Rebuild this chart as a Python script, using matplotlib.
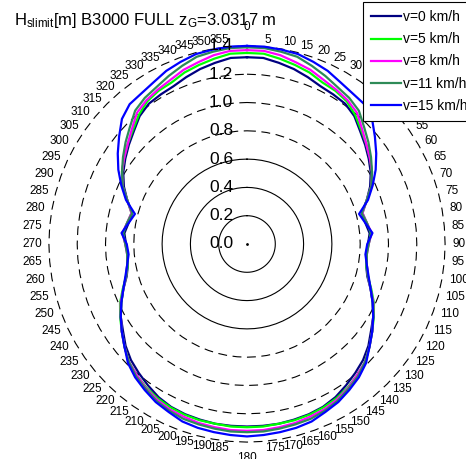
import matplotlib
matplotlib.use('Agg')
import matplotlib.pyplot as plt
import numpy as np

plt.rcParams['font.family'] = ['Liberation Sans', 'DejaVu Sans']
plt.rcParams['mathtext.fontset'] = 'custom'
plt.rcParams['mathtext.rm'] = 'Liberation Sans'
plt.rcParams['mathtext.it'] = 'Liberation Sans:italic'

# wave heading [deg], 0..180 (the plot is symmetric about 0/180)
heading = list(range(0, 185, 5))

h_v0 = [1.32, 1.32, 1.30, 1.28, 1.255, 1.23, 1.22, 1.21, 1.18, 1.13, 1.09, 1.05, 1.01,
        0.96, 0.90, 0.84, 0.85, 0.87, 0.855, 0.845, 0.855, 0.88, 0.93, 0.98, 1.03, 1.07,
        1.12, 1.16, 1.19, 1.22, 1.25, 1.27, 1.28, 1.285, 1.29, 1.29, 1.29]
h_v5 = [1.35, 1.35, 1.33, 1.31, 1.29, 1.26, 1.25, 1.23, 1.19, 1.14, 1.10, 1.06, 1.02,
        0.97, 0.90, 0.845, 0.86, 0.88, 0.86, 0.845, 0.855, 0.885, 0.935, 0.99, 1.035, 1.08,
        1.13, 1.18, 1.21, 1.24, 1.26, 1.275, 1.285, 1.29, 1.29, 1.295, 1.295]
h_v8 = [1.37, 1.37, 1.355, 1.33, 1.31, 1.28, 1.26, 1.24, 1.21, 1.15, 1.10, 1.06, 1.02,
        0.97, 0.90, 0.845, 0.86, 0.885, 0.86, 0.85, 0.86, 0.885, 0.93, 0.985, 1.03, 1.08,
        1.13, 1.18, 1.21, 1.245, 1.27, 1.29, 1.30, 1.31, 1.315, 1.32, 1.32]
h_v11 = [1.39, 1.39, 1.38, 1.37, 1.34, 1.31, 1.28, 1.26, 1.23, 1.17, 1.12, 1.07, 1.02,
         0.97, 0.90, 0.84, 0.86, 0.88, 0.86, 0.85, 0.86, 0.885, 0.93, 0.98, 1.03, 1.08,
         1.13, 1.18, 1.22, 1.25, 1.28, 1.30, 1.315, 1.32, 1.325, 1.33, 1.33]
h_v15 = [1.40, 1.40, 1.395, 1.39, 1.37, 1.35, 1.32, 1.30, 1.29, 1.25, 1.18, 1.115, 1.05,
         0.98, 0.91, 0.82, 0.85, 0.89, 0.85, 0.84, 0.86, 0.89, 0.93, 0.98, 1.03, 1.08,
         1.13, 1.19, 1.23, 1.26, 1.29, 1.31, 1.335, 1.345, 1.35, 1.355, 1.36]

labels = ['v=0 km/h', 'v=5 km/h', 'v=8 km/h', 'v=11 km/h', 'v=15 km/h']
colors = ['#000080', '#00ff00', '#ff00ff', '#2e8b57', '#0000ff']

solid_rings = [0.2, 0.4, 0.6]
dashed_rings = [0.8, 1.0, 1.2, 1.4]
ring_labels = ['0.0', '0.2', '0.4', '0.6', '0.8', '1.0', '1.2', '1.4']
ring_vals = [0.0, 0.2, 0.4, 0.6, 0.8, 1.0, 1.2, 1.4]
tick_angles = list(range(0, 360, 5))

W, H = 466, 459
fig = plt.figure(figsize=(W / 100, H / 100), dpi=100)
R = 1.45
px = 141.5
cx, cy = 247, 244
ax = fig.add_axes([(cx - R * px) / W, (H - cy - R * px) / H, 2 * R * px / W, 2 * R * px / H],
                  projection='polar')
ax.set_theta_zero_location('N')
ax.set_theta_direction(-1)
ax.set_ylim(0, R)
ax.grid(False)
ax.set_xticks([])
ax.set_yticks([])
ax.spines['polar'].set_visible(False)
ax.patch.set_alpha(0)

th = np.radians(np.arange(0, 365, 5))
for r in solid_rings:
    ax.plot(th, np.full_like(th, r), color='k', lw=0.8)
for r in dashed_rings:
    ax.plot(th, np.full_like(th, r), color='k', lw=0.8, ls=(0, (8, 5)))
ax.plot(0, 0, 'k.', ms=2)

full_th = np.radians(heading + [360 - h for h in heading[-2::-1]])
for vals, lab, c in zip([h_v0, h_v5, h_v8, h_v11, h_v15], labels, colors):
    r = vals + vals[-2::-1]
    ax.plot(full_th, r, color=c, lw=1.6, label=lab)

for r, s in zip(ring_vals, ring_labels):
    ax.annotate(s, xy=(0, r), xytext=(-10, 0), textcoords='offset points',
                ha='right', va='center', fontsize=12.5)

# angle labels: anchored on a ring, left-aligned on the right half, right-aligned on the left
for a in tick_angles:
    if a == 0:
        ax.text(0, 1.535, '0', ha='center', va='center', fontsize=8.5)
    elif a == 180:
        ax.text(np.pi, 1.51, '180', ha='center', va='center', fontsize=8.5)
    elif a < 180:
        ax.text(np.radians(a), 1.45, str(a), ha='left', va='center', fontsize=8.5)
    else:
        ax.text(np.radians(a), 1.45, str(a), ha='right', va='center', fontsize=8.5)

fig.text(14 / W, 1 - 25 / H, r'H$_{\mathrm{slimit}}$[m] B3000 FULL z$_{\mathrm{G}}$=3.0317 m',
         fontsize=12, va='baseline')

leg = fig.legend(loc='upper left', bbox_to_anchor=(363 / W, 1 - 2 / H), fontsize=10,
                 frameon=True, fancybox=False, edgecolor='k', framealpha=1,
                 borderaxespad=0, handlelength=2.1, handletextpad=0.15,
                 labelspacing=0.58, borderpad=0.6)
leg.get_frame().set_linewidth(0.8)

fig.savefig('out.png', dpi=100)
